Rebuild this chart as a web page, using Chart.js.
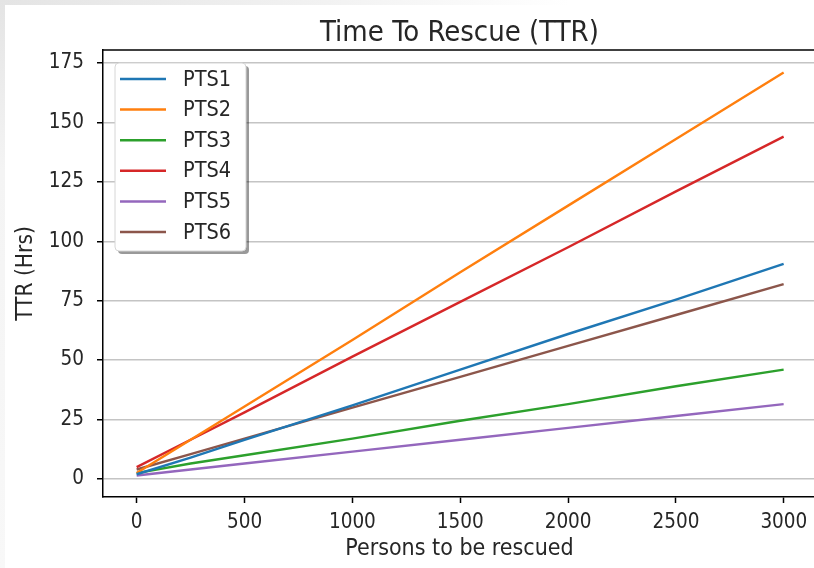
<!DOCTYPE html>
<html>
<head>
<meta charset="utf-8">
<script src="https://cdn.jsdelivr.net/npm/chart.js@4.4.0/dist/chart.umd.min.js"></script>
<style>
  html, body { margin: 0; padding: 0; background: #fff; overflow: hidden; }
  #wrap { width: 814px; height: 568px; position: relative; overflow: hidden; }
  #edge-top { position: absolute; left: 0; top: 0; width: 814px; height: 5px;
    background: linear-gradient(to right, #e4e4e4 0%, #f2f2f2 40%, #fff 70%); }
  #edge-left { position: absolute; left: 0; top: 0; width: 5px; height: 568px;
    background: linear-gradient(to bottom, #e4e4e4 0%, #f4f4f4 30%, #f8f8f8 100%); }
</style>
</head>
<body>
<div id="wrap">
  <canvas id="chart-ttr" width="822" height="568"></canvas>
  <div id="edge-top"></div><div id="edge-left"></div>
</div>
<script>
// valores
const persons = [0, 250, 500, 1000, 1500, 2000, 2500, 2999];
const pts1 = [2.0, 9.0, 16.5, 31.0, 46.0, 61.0, 75.5, 90.5];
const pts2 = [2.5, 16.5, 30.5, 58.5, 87.0, 115.0, 143.0, 171.0];
const pts3 = [2.5, 6.5, 10.0, 17.0, 24.5, 31.5, 39.0, 46.0];
const pts4 = [5.0, 16.5, 28.0, 51.5, 74.5, 97.5, 121.0, 144.0];
const pts5 = [1.5, 4.0, 6.5, 11.5, 16.5, 21.5, 26.5, 31.5];
const pts6 = [4.0, 10.5, 17.0, 30.0, 43.0, 56.0, 69.0, 82.0];

const seriesNames = ['PTS1', 'PTS2', 'PTS3', 'PTS4', 'PTS5', 'PTS6'];
const seriesColors = ['#1f77b4', '#ff7f0e', '#2ca02c', '#d62728', '#9467bd', '#8c564b'];
const xTicks = [0, 500, 1000, 1500, 2000, 2500, 3000];
const yTicks = [0, 25, 50, 75, 100, 125, 150, 175];
const chartTitle = 'Time To Rescue (TTR)';

const FONT = '"DejaVu Sans Condensed", "DejaVu Sans"';
const TXT = '#262626';

function toPoints(ys) {
  return persons.map((x, i) => ({ x: x, y: ys[i] }));
}

// titulo centrado sobre el area, marco superior y leyenda interior
const framePlugin = {
  id: 'frameLegend',
  afterDraw(chart) {
    const { ctx, chartArea: a } = chart;
    ctx.save();
    ctx.strokeStyle = '#000';
    ctx.lineWidth = 1.5;
    ctx.beginPath();
    ctx.moveTo(a.left, a.top);
    ctx.lineTo(a.right + 10, a.top);
    ctx.stroke();

    ctx.fillStyle = TXT;
    ctx.font = '29px ' + FONT;
    ctx.textAlign = 'center';
    ctx.textBaseline = 'alphabetic';
    ctx.fillText(chartTitle, (a.left + a.right) / 2, a.top - 9);

    // leyenda
    const bx = a.left + 12, by = a.top + 13, bw = 131, bh = 188;
    const r = 4;
    const rr = (x, y, w, h) => {
      ctx.beginPath();
      ctx.moveTo(x + r, y);
      ctx.lineTo(x + w - r, y);
      ctx.quadraticCurveTo(x + w, y, x + w, y + r);
      ctx.lineTo(x + w, y + h - r);
      ctx.quadraticCurveTo(x + w, y + h, x + w - r, y + h);
      ctx.lineTo(x + r, y + h);
      ctx.quadraticCurveTo(x, y + h, x, y + h - r);
      ctx.lineTo(x, y + r);
      ctx.quadraticCurveTo(x, y, x + r, y);
      ctx.closePath();
    };
    rr(bx + 3, by + 3, bw, bh);
    ctx.fillStyle = 'rgba(0,0,0,0.4)';
    ctx.fill();
    rr(bx, by, bw, bh);
    ctx.fillStyle = '#fff';
    ctx.fill();
    ctx.strokeStyle = '#d6d6d6';
    ctx.lineWidth = 1;
    ctx.stroke();

    ctx.font = '21.5px ' + FONT;
    ctx.textBaseline = 'middle';
    ctx.textAlign = 'left';
    chart.data.datasets.forEach((ds, i) => {
      const y = a.top + 29 + i * 30.6;
      ctx.strokeStyle = ds.borderColor;
      ctx.lineWidth = 2.5;
      ctx.beginPath();
      ctx.moveTo(a.left + 17, y);
      ctx.lineTo(a.left + 63, y);
      ctx.stroke();
      ctx.fillStyle = TXT;
      ctx.fillText(ds.label, a.left + 80, y + 1);
    });
    ctx.restore();
  }
};

function createChart() {
  const ctx = document.getElementById('chart-ttr');
  const allSeries = [pts1, pts2, pts3, pts4, pts5, pts6];

  new Chart(ctx, {
    type: 'line',
    data: {
      datasets: allSeries.map((s, i) => ({
        label: seriesNames[i],
        data: toPoints(s),
        borderColor: seriesColors[i],
        backgroundColor: seriesColors[i],
        borderWidth: 2.4,
        pointRadius: 0,
        tension: 0,
        fill: false
      }))
    },
    options: {
      responsive: false,
      animation: false,
      layout: { padding: { left: 0, right: 6, top: 50, bottom: 0 } },
      plugins: {
        legend: { display: false },
        tooltip: { enabled: false },
        title: { display: false }
      },
      scales: {
        x: {
          type: 'linear',
          min: -156,
          max: 3149,
          afterBuildTicks: s => { s.ticks = xTicks.map(v => ({ value: v })); },
          afterFit: s => { s.height = 71; },
          grid: { display: true, drawOnChartArea: false, drawTicks: true, tickLength: 6, tickColor: '#000', tickWidth: 1.5 },
          border: { display: true, color: '#000', width: 1.5 },
          ticks: { color: TXT, font: { family: FONT, size: 20.5 }, padding: 7, maxRotation: 0, callback: v => String(v) },
          title: { display: true, text: 'Persons to be rescued', color: TXT, font: { family: FONT, size: 23 }, padding: { top: 0, bottom: 5 } }
        },
        y: {
          type: 'linear',
          min: -7.57,
          max: 180.47,
          afterBuildTicks: s => { s.ticks = yTicks.map(v => ({ value: v })); },
          afterFit: s => { s.width = 103; },
          grid: { display: true, drawOnChartArea: true, drawTicks: true, tickLength: 6, color: '#c4c4c4', lineWidth: 1.5, tickColor: '#000', tickWidth: 1.5 },
          border: { display: true, color: '#000', width: 1.5 },
          ticks: { color: TXT, font: { family: FONT, size: 20.5 }, padding: 13, callback: v => String(v) },
          title: { display: true, text: 'TTR (Hrs)', color: TXT, font: { family: FONT, size: 22.5 }, padding: { top: 13, bottom: 0 } }
        }
      }
    },
    plugins: [framePlugin]
  });
}

window.addEventListener('load', createChart);
</script>
</body>
</html>
